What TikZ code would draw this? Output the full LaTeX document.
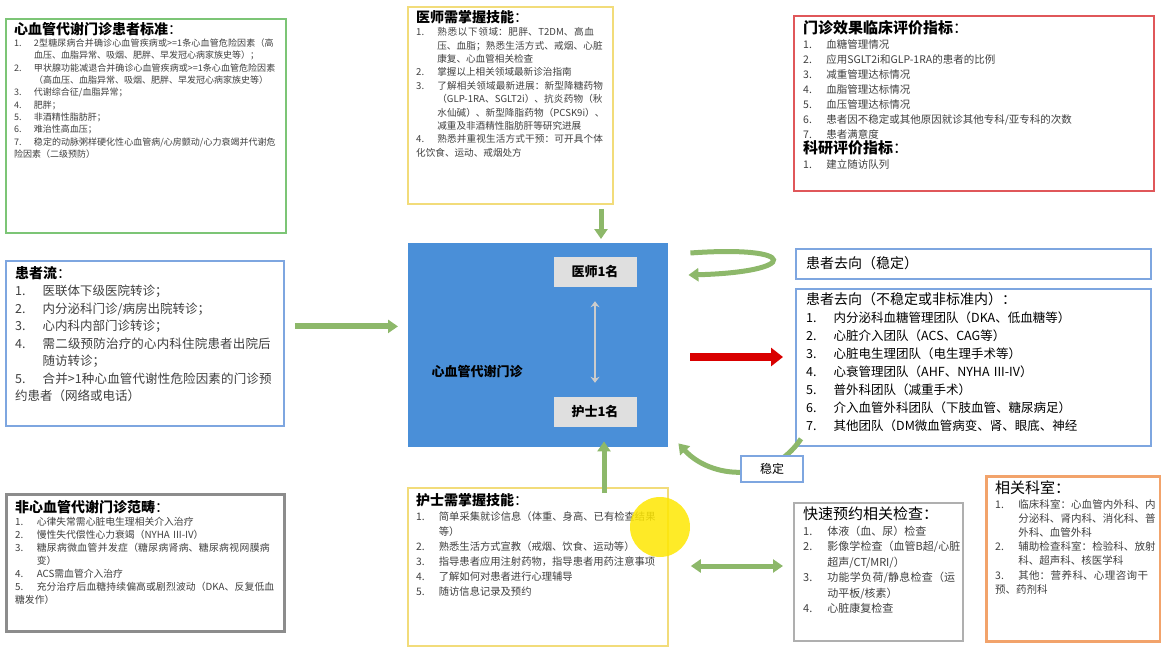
\documentclass[tikz,border=0pt]{standalone}
\usepackage{fontspec}
\setmainfont{Noto Sans CJK SC}
\XeTeXlinebreaklocale "zh"
\XeTeXlinebreakskip = 0pt plus 1pt
\usetikzlibrary{arrows.meta,positioning}

\definecolor{boxgreen}{HTML}{7CC576}
\definecolor{boxyellow}{HTML}{F2DC7A}
\definecolor{boxred}{HTML}{E0575A}
\definecolor{boxblue}{HTML}{7EA6E0}
\definecolor{boxgray}{HTML}{8C8C8C}
\definecolor{boxorange}{HTML}{F2A36B}
\definecolor{clinicblue}{HTML}{4A8FD8}
\definecolor{arrowgreen}{HTML}{8DB86A}
\definecolor{itemgray}{HTML}{404040}

% numbered line with hanging indent
\newcommand{\itm}[2]{\par\hangindent=2.2em\hangafter=1\noindent\makebox[2.2em][l]{#1.}#2}
\newcommand{\btitle}[1]{\noindent{\bfseries #1}：}

\tikzset{
  frame/.style={draw=#1, line width=1.8pt, fill=white, anchor=north west, inner sep=0pt},
  txt/.style={anchor=north west, inner sep=0pt, align=left, text=itemgray},
  fat/.style={line width=5pt, draw=arrowgreen, -{Triangle[length=10pt,width=13pt]}},
}

\begin{document}
\begin{tikzpicture}[x=1pt, y=-1pt]
    \useasboundingbox (0,0) rectangle (1161,650);

    % boxes
    \node[frame=boxgreen, minimum width=280pt, minimum height=214pt] (crit) at (5,18) {};
    \node[frame=boxyellow, minimum width=205pt, minimum height=197pt] (doc) at (407,6) {};
    \node[frame=boxred, minimum width=360pt, minimum height=175pt] (eval) at (793,15) {};
    \node[frame=boxblue, minimum width=278pt, minimum height=165pt] (flow) at (5,260) {};
    \node[frame=boxgray, line width=2.5pt, minimum width=278pt, minimum height=137pt] (non) at (5,493) {};
    \node[frame=boxyellow, minimum width=260pt, minimum height=158pt] (nurse) at (407,487) {};
    \node[frame=boxblue, minimum width=355pt, minimum height=30pt] (stable) at (795,248) {};
    \node[frame=boxblue, minimum width=355pt, minimum height=157pt] (unstable) at (795,288) {};
    \node[frame=boxgray!70, minimum width=169pt, minimum height=138pt] (quick) at (793,502) {};
    \node[frame=boxorange, line width=2.5pt, minimum width=174pt, minimum height=165pt] (dept) at (985,475) {};

    % centre clinic
    \node[fill=clinicblue, anchor=north west, minimum width=260pt, minimum height=204pt, inner sep=0pt] (clinic) at (408,243) {};
    \node[anchor=west, font=\bfseries\fontsize{13}{13}\selectfont] (cname) at (428,372) {心血管代谢门诊};
    \node[fill=gray!25, minimum width=83pt, minimum height=30pt, inner sep=0pt, font=\bfseries\fontsize{13}{13}\selectfont] (doc1) at (595,272) {医师1名};
    \node[fill=gray!25, minimum width=83pt, minimum height=30pt, inner sep=0pt, font=\bfseries\fontsize{13}{13}\selectfont] (nurse1) at (595,412) {护士1名};
    \draw[line width=2pt, draw=gray!40, {Stealth[length=6pt,width=9pt]}-{Stealth[length=6pt,width=9pt]}] ([yshift=-14pt]doc1.south) -- ([yshift=14pt]nurse1.north);

    % texts
    \node[txt, text width=262pt, font=\fontsize{9}{12.3}\selectfont] at (14,22) {%
      {\fontsize{14}{18}\selectfont\color{black}\btitle{心血管代谢门诊患者标准}}
      \itm{1}{2型糖尿病合并确诊心血管疾病或>=1条心血管危险因素（高血压、血脂异常、吸烟、肥胖、早发冠心病家族史等）；}
      \itm{2}{甲状腺功能减退合并确诊心血管疾病或>=1条心血管危险因素（高血压、血脂异常、吸烟、肥胖、早发冠心病家族史等）}
      \itm{3}{代谢综合征/血脂异常；}
      \itm{4}{肥胖；}
      \itm{5}{非酒精性脂肪肝；}
      \itm{6}{难治性高血压；}
      \itm{7}{稳定的动脉粥样硬化性心血管病/心房颤动/心力衰竭并代谢危险因素（二级预防）}};

    \node[txt, text width=190pt, font=\fontsize{9.6}{13.4}\selectfont] at (416,10) {%
      {\fontsize{14}{18}\selectfont\color{black}\btitle{医师需掌握技能}}
      \itm{1}{熟悉以下领域：肥胖、T2DM、高血压、血脂；熟悉生活方式、戒烟、心脏康复、心血管相关检查}
      \itm{2}{掌握以上相关领域最新诊治指南}
      \itm{3}{了解相关领域最新进展：新型降糖药物（GLP-1RA、SGLT2i）、抗炎药物（秋水仙碱）、新型降脂药物（PCSK9i）、减重及非酒精性脂肪肝等研究进展}
      \itm{4}{熟悉并重视生活方式干预：可开具个体化饮食、运动、戒烟处方}};

    \node[txt, text width=345pt, font=\fontsize{10.5}{15}\selectfont] at (803,20) {%
      {\fontsize{15}{19}\selectfont\color{black}\btitle{门诊效果临床评价指标}}
      \itm{1}{血糖管理情况}
      \itm{2}{应用SGLT2i和GLP-1RA的患者的比例}
      \itm{3}{减重管理达标情况}
      \itm{4}{血脂管理达标情况}
      \itm{5}{血压管理达标情况}
      \itm{6}{患者因不稳定或其他原因就诊其他专科/亚专科的次数}
      \itm{7}{患者满意度}
      \par\noindent{\fontsize{15}{19}\selectfont\color{black}\btitle{科研评价指标}}
      \itm{1}{建立随访队列}};

    \node[txt, text width=260pt, font=\fontsize{12.5}{17.5}\selectfont] at (15,266) {%
      {\fontsize{14}{18}\selectfont\color{black}\btitle{患者流}}
      \itm{1}{医联体下级医院转诊；}
      \itm{2}{内分泌科门诊/病房出院转诊；}
      \itm{3}{心内科内部门诊转诊；}
      \itm{4}{需二级预防治疗的心内科住院患者出院后随访转诊；}
      \itm{5}{合并>1种心血管代谢性危险因素的门诊预约患者（网络或电话）}};

    \node[txt, text width=262pt, font=\fontsize{9.8}{13}\selectfont] at (15,500) {%
      {\fontsize{14}{18}\selectfont\color{black}\btitle{非心血管代谢门诊范畴}}
      \itm{1}{心律失常需心脏电生理相关介入治疗}
      \itm{2}{慢性失代偿性心力衰竭（NYHA III-IV）}
      \itm{3}{糖尿病微血管并发症（糖尿病肾病、糖尿病视网膜病变）}
      \itm{4}{ACS需血管介入治疗}
      \itm{5}{充分治疗后血糖持续偏高或剧烈波动（DKA、反复低血糖发作）}};

    \node[txt, text width=240pt, font=\fontsize{10.3}{15}\selectfont] at (416,493) {%
      {\fontsize{14}{18}\selectfont\color{black}\btitle{护士需掌握技能}}
      \itm{1}{简单采集就诊信息（体重、身高、已有检查结果等）}
      \itm{2}{熟悉生活方式宣教（戒烟、饮食、运动等）}
      \itm{3}{指导患者应用注射药物，指导患者用药注意事项}
      \itm{4}{了解如何对患者进行心理辅导}
      \itm{5}{随访信息记录及预约}};

    % yellow highlight
    \fill[yellow!90!orange, opacity=0.85] (660,527) circle (30);

    \node[txt, anchor=west, text=black, font=\fontsize{14}{14}\selectfont] at (806,263) {患者去向（稳定）};

    \node[txt, text width=345pt, text=black, font=\fontsize{12.5}{18}\selectfont] at (806,292) {%
      {\fontsize{14}{19}\selectfont 患者去向（不稳定或非标准内）：}
      \itm{1}{内分泌科血糖管理团队（DKA、低血糖等）}
      \itm{2}{心脏介入团队（ACS、CAG等）}
      \itm{3}{心脏电生理团队（电生理手术等）}
      \itm{4}{心衰管理团队（AHF、NYHA III-IV）}
      \itm{5}{普外科团队（减重手术）}
      \itm{6}{介入血管外科团队（下肢血管、糖尿病足）}
      \itm{7}{其他团队（DM微血管病变、肾、眼底、神经}};

    \node[txt, text width=158pt, font=\fontsize{11}{15.5}\selectfont] at (803,507) {%
      {\fontsize{15}{20}\selectfont\color{black}快速预约相关检查：}
      \itm{1}{体液（血、尿）检查}
      \itm{2}{影像学检查（血管B超/心脏超声/CT/MRI/）}
      \itm{3}{功能学负荷/静息检查（运动平板/核素）}
      \itm{4}{心脏康复检查}};

    \node[txt, text width=162pt, font=\fontsize{10.5}{14.2}\selectfont] at (995,481) {%
      {\fontsize{15}{20}\selectfont\color{black}相关科室：}
      \itm{1}{临床科室：心血管内外科、内分泌科、肾内科、消化科、普外科、血管外科}
      \itm{2}{辅助检查科室：检验科、放射科、超声科、核医学科}
      \itm{3}{其他：营养科、心理咨询干预、药剂科}};

    % connectors
    \draw[fat, line width=6pt] (flow.east) ++(10,-17) coordinate (f1) -- ([xshift=-10pt]clinic.west |- f1);
    \draw[fat] ([yshift=-4pt]doc.south -| 601,0) -- ([yshift=4pt]clinic.north -| 601,0);
    \draw[fat] ([yshift=-6pt]nurse.north -| 604,0) -- ([yshift=6pt]clinic.south -| 604,0);
    \draw[line width=8pt, draw=red!85!black, -{Triangle[length=12pt,width=18pt]}] ([xshift=22pt]clinic.east |- 0,357) -- ([xshift=-12pt]unstable.west |- 0,357);
    \draw[fat] ([xshift=22pt]clinic.east |- 0,253) .. controls (800,245) and (800,272) .. ([xshift=20pt]clinic.east |- 0,275);
    \draw[fat] ([xshift=6pt,yshift=8pt]unstable.south west) .. controls (770,485) and (710,478) .. ([xshift=10pt,yshift=4pt]clinic.south east);
    \draw[line width=5pt, draw=arrowgreen, {Triangle[length=10pt,width=13pt]}-{Triangle[length=10pt,width=13pt]}] ([xshift=22pt]nurse.east |- 0,566) -- ([xshift=-10pt]quick.west |- 0,566);

    % stable label
    \node[draw=boxblue, line width=1.5pt, fill=white, minimum width=62pt, minimum height=26pt, font=\fontsize{12}{12}\selectfont] (stab) at (772,469) {稳定};
\end{tikzpicture}
\end{document}
